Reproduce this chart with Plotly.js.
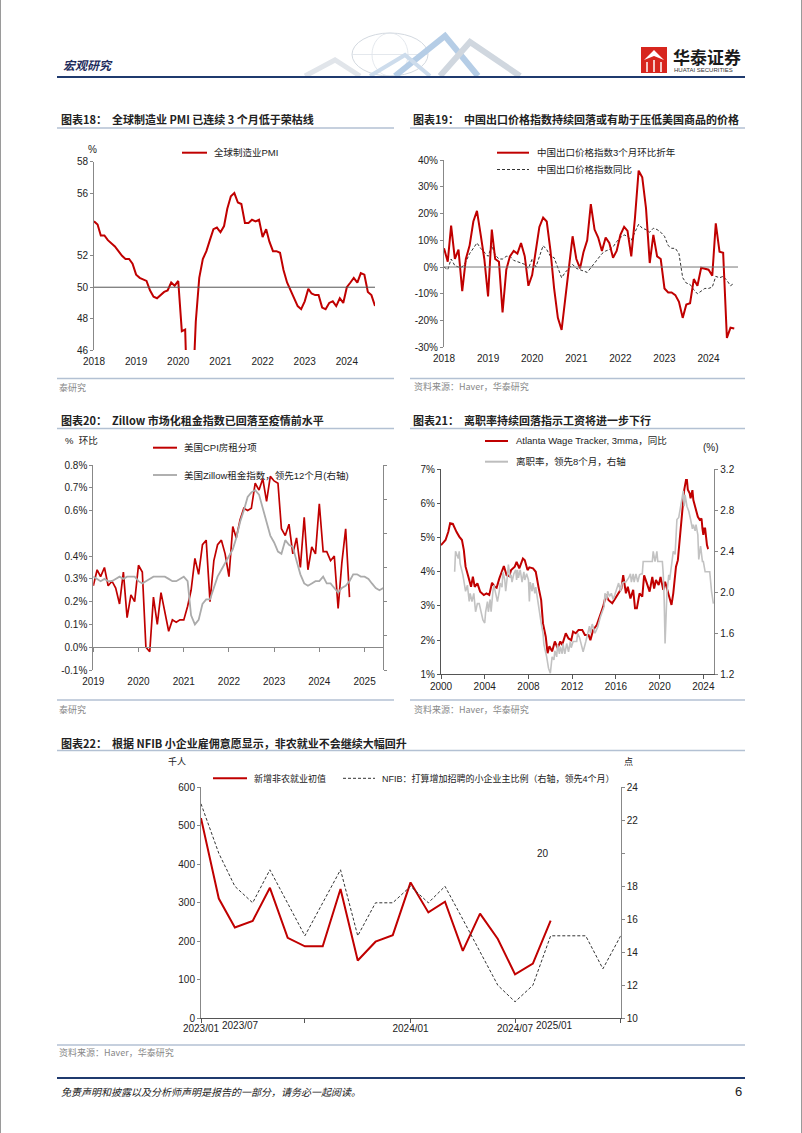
<!DOCTYPE html>
<html><head><meta charset="utf-8">
<script src="https://cdn.plot.ly/plotly-3.0.1.min.js"></script>
<style>html,body{margin:0;padding:0;background:#fff}#g{width:802px;height:1133px}</style>
</head><body><div id="g"></div>
<script>
// ---------- DATA ----------
// Chart 18: global manufacturing PMI, monthly from 2018-01
const pmiStart = [2018, 1];
const pmiVals = [54.2,54.0,53.3,53.3,53.0,52.8,52.6,52.3,52.0,51.8,51.8,51.5,
  50.8,50.6,50.5,50.4,49.8,49.4,49.3,49.5,49.7,49.8,50.3,50.1,
  50.4,47.2,47.3,39.6,42.4,47.8,50.6,51.8,52.3,53.0,53.7,53.8,
  53.5,53.9,55.0,55.8,56.0,55.4,55.3,54.1,54.1,54.3,54.2,54.3,
  53.2,53.7,52.9,52.3,52.3,52.2,51.1,50.3,49.8,49.4,48.8,48.6,
  49.1,49.9,49.6,49.5,49.5,48.7,48.6,49.0,49.1,48.8,49.3,49.0,
  50.0,50.3,50.6,50.3,50.9,50.8,49.7,49.5,48.8];
const pmiTicks = ['2018','2019','2020','2021','2022','2023','2024'];

// Chart 19: China export price index, monthly from 2018-01
const expStart = [2018, 1];
const exp3mAnn = [7,2,15.5,3,6.5,-9,3,8,17,21,12,3,
  -11,14,3,2,-17,-1,4,6,5,9,4,-7,
  -3,6,15,18.5,17,6,-8,-19,-23.5,-12,0,11.5,
  3,-0.5,5.5,10,23.5,14,11,6,11,9,3.5,6,
  12,15,13.5,4,18,36,33.5,22,1.5,12,4,3,
  -8,-9.5,-9.5,-10.5,-13,-19,-14,-13.5,-4.5,-7,-0.3,-0.7,
  -1,-3.2,16.3,5.7,5.3,-26.5,-22.7,-23];
const expYoy = [0,-1,3,0.5,0,0,2,5,7,9,7,5.5,
  4,8,4.5,3,3,4,4,2.5,2,1.5,1,-0.5,
  3,0,4,8,6.5,4,3.5,-0.5,-4,-2,-0.5,1,
  -0.5,-1,-1.5,-2,-0.3,1.5,3.5,5,6,6.5,7.5,9.5,
  11,12,11.5,10,13,16,14.5,14,13,14.5,14,13,
  11.5,8,7,7,5,-4,-6,-6.5,-8.5,-10,-9,-8,
  -8,-7.5,-3.5,-4,-3.5,-5,-7,-6];
const expTickVals = [-30,-20,-10,0,10,20,30,40];

// Chart 20: US CPI rent (left, % mom) and Zillow rent index (right, lead 12m), monthly from 2019-01
const rentStart = [2019, 1];
const cpiRent = [0.27,0.34,0.31,0.35,0.27,0.29,0.26,0.19,0.33,0.13,0.23,0.20,
  0.36,0.33,0.00,-0.02,0.22,0.10,0.24,0.16,0.07,0.12,0.11,0.12,
  0.12,0.18,0.25,0.39,0.32,0.45,0.47,0.20,0.38,0.45,0.47,0.41,
  0.31,0.53,0.48,0.56,0.61,0.60,0.61,0.72,0.69,0.74,0.64,0.75,
  0.73,0.72,0.52,0.49,0.54,0.41,0.48,0.35,0.57,0.34,0.44,0.41,
  0.63,0.42,0.42,0.38,0.40,0.17,0.37,0.52,0.22];
const zillow = [0.52,0.50,0.48,0.50,0.48,0.48,0.50,0.52,0.50,0.52,0.52,0.52,
  0.48,0.46,0.48,0.50,0.52,0.52,0.52,0.52,0.50,0.48,0.48,0.50,
  0.52,0.48,0.18,0.10,0.14,0.28,0.32,0.32,0.42,0.52,0.58,0.64,
  0.70,0.76,0.86,1.00,1.10,1.22,1.26,1.28,1.24,1.12,0.98,0.88,
  0.82,0.74,0.72,0.84,0.80,0.78,0.66,0.54,0.46,0.44,0.46,0.48,
  0.48,0.52,0.46,0.46,0.42,0.38,0.42,0.44,0.48,0.54,0.54,0.52,
  0.52,0.50,0.46,0.42,0.40,0.42];
const rentTickVals = [-0.1,0,0.1,0.2,0.3,0.4,0.6,0.7,0.8];
const rentTickText = ['-0.1%','0.0%','0.1%','0.2%','0.3%','0.4%','0.6%','0.7%','0.8%'];
const rentYears = ['2019','2020','2021','2022','2023','2024','2025'];

// Chart 21: Atlanta wage tracker (left) and quits rate lead 8m (right)
const wageDates = ['2000-01','2000-06','2000-09','2000-11','2001-02','2001-05','2001-06','2001-09','2001-12',
  '2002-02','2002-04','2002-07','2002-10','2002-12','2003-02','2003-05','2003-08','2003-12',
  '2004-03','2004-06','2004-09','2004-12','2005-02','2005-05','2005-08','2005-10',
  '2006-01','2006-04','2006-06','2006-10','2006-12','2007-03','2007-07','2007-09','2007-12',
  '2008-02','2008-06','2008-09','2008-12','2009-03','2009-05','2009-08','2009-10','2009-12',
  '2010-03','2010-06','2010-09','2010-12','2011-02','2011-06','2011-09','2011-12',
  '2012-02','2012-05','2012-08','2012-12','2013-03','2013-07','2013-09','2013-12',
  '2014-04','2014-08','2014-11','2015-02','2015-05','2015-09','2015-12',
  '2016-04','2016-07','2016-09','2016-12','2017-02','2017-05','2017-08','2017-10','2017-12',
  '2018-03','2018-06','2018-08','2018-11','2019-02','2019-05','2019-07','2019-09','2019-12',
  '2020-02','2020-05','2020-07','2020-09','2020-12','2021-02','2021-04','2021-07','2021-09','2021-11',
  '2022-02','2022-04','2022-06','2022-07','2022-08','2022-10','2022-11','2023-01','2023-02',
  '2023-05','2023-07','2023-09','2023-11','2023-12','2024-01','2024-02','2024-03','2024-05','2024-06','2024-07'];
const wageVals = [4.78,4.93,5.17,5.42,5.40,5.22,5.17,5.03,4.93,
  4.64,4.15,3.86,3.56,3.86,3.56,3.66,3.42,3.32,
  3.37,3.32,3.68,3.56,3.53,3.80,4.05,4.17,
  3.90,3.87,4.05,4.15,4.29,4.10,4.39,4.34,4.05,
  4.13,4.10,4.00,3.56,3.17,2.49,2.10,1.62,1.82,
  1.67,1.96,1.77,1.96,1.86,2.20,2.05,2.00,
  2.25,2.20,2.30,2.30,2.15,2.15,2.00,2.30,
  2.44,2.79,2.98,3.32,3.17,3.08,3.22,
  3.37,3.51,3.90,3.37,3.56,3.22,3.47,2.93,2.93,
  3.37,3.27,3.90,3.66,3.42,3.85,3.51,3.76,3.61,
  3.85,3.47,3.71,3.51,3.17,3.03,3.37,4.15,4.34,4.93,
  5.81,6.39,6.69,6.69,6.40,6.30,6.15,6.39,6.10,
  5.81,5.61,5.52,5.56,5.27,5.08,5.27,5.27,4.78,4.69,4.70];
const quitDates = ['2001-04','2001-05','2001-08','2001-09','2001-10','2001-12','2002-01','2002-04','2002-06','2002-08','2002-09','2002-11',
  '2003-01','2003-03','2003-05','2003-07','2003-09','2003-11','2004-01','2004-02','2004-04','2004-05','2004-07','2004-08','2004-10','2004-11',
  '2005-01','2005-03','2005-05','2005-06','2005-08','2005-09','2005-11','2005-12','2006-02','2006-03','2006-05','2006-06','2006-07','2006-09','2006-11','2006-12',
  '2007-01','2007-02','2007-04','2007-06','2007-08','2007-09','2007-11','2008-01','2008-02','2008-03','2008-05','2008-06','2008-08','2008-09','2008-11',
  '2009-01','2009-03','2009-05','2009-06','2009-09','2009-11','2010-01','2010-02','2010-03','2010-05','2010-06','2010-08','2010-09','2010-11','2010-12',
  '2011-02','2011-03','2011-05','2011-07','2011-09','2011-11','2011-12','2012-02','2012-06','2012-07','2012-09','2012-10',
  '2013-01','2013-04','2013-06','2013-08','2013-09','2013-11','2014-02','2014-05','2014-08','2014-10','2014-12',
  '2015-01','2015-03','2015-04','2015-06','2015-08','2015-10','2015-12','2016-02','2016-04','2016-06','2016-08','2016-10','2016-12',
  '2017-03','2017-05','2017-06','2017-08','2017-09','2017-11','2018-01','2018-03','2018-05','2018-06','2018-07','2018-10',
  '2019-05','2019-06','2019-08','2019-10','2019-11','2020-04','2020-05','2020-06','2020-07','2020-09','2020-11','2020-12',
  '2021-02','2021-04','2021-06','2021-08','2021-10','2021-12','2022-02','2022-03','2022-04','2022-05','2022-07','2022-09','2022-11',
  '2023-01','2023-02','2023-04','2023-05','2023-07','2023-08','2023-10','2023-12','2024-01','2024-03','2024-08','2024-10','2024-12'];
const quitVals = [2.20,2.40,2.33,2.40,2.28,2.22,2.17,2.01,2.07,1.91,1.99,1.91,
  1.99,1.81,1.89,1.89,1.80,1.73,1.70,1.81,1.91,1.81,1.93,1.81,2.01,2.07,
  1.99,1.91,2.01,2.09,2.05,2.20,2.12,2.01,2.17,2.27,2.14,2.17,2.10,2.18,2.22,2.12,
  2.22,2.14,2.22,2.10,2.20,2.12,2.18,2.12,1.91,2.10,2.01,2.09,1.99,2.05,1.93,
  1.80,1.70,1.60,1.49,1.37,1.26,1.21,1.27,1.37,1.34,1.43,1.37,1.49,1.40,1.47,
  1.40,1.50,1.40,1.50,1.42,1.52,1.46,1.52,1.52,1.60,1.56,1.52,
  1.42,1.52,1.60,1.67,1.60,1.69,1.60,1.66,1.76,1.82,1.86,
  1.99,1.93,2.01,1.96,1.99,1.93,1.98,2.05,2.09,2.01,2.09,2.10,2.10,
  2.14,2.18,2.10,2.18,2.10,2.18,2.10,2.17,2.18,2.18,2.30,2.30,
  2.30,2.40,2.30,2.40,2.30,2.30,2.18,1.93,1.50,1.99,2.17,2.12,
  2.25,2.40,2.37,2.71,2.73,2.84,2.97,2.99,2.84,2.95,2.84,2.79,2.71,
  2.62,2.66,2.60,2.66,2.56,2.32,2.45,2.30,2.30,2.20,2.20,2.01,1.89];
const wageYears = ['2000','2004','2008','2012','2016','2020','2024'];

// Chart 22: NFP first print (left, thousands) and NFIB hiring plans lead 4m (right)
const nfpStart = [2023, 1];
const nfpVals = [520,311,236,253,339,209,187,187,336,150,199,216,353,275,303,175,272,206,114,142,254];
const nfibVals = [23,20,18,17,19,17,15,17,19,15,17,17,18,17,18,16,14,12,11,12,15,15,15,13,15];
const nfpTickVals = ['2023-01-01','2023-07-01','2024-01-01','2024-07-01','2025-01-01'];
const nfpTickText = ['2023/01','','2024/01','2024/07',''];
const nfibTickVals = [10,12,14,16,18,20,22,24];
const nfibTickText = ['10','12','14','16','18','','22','24'];

// ---------- HELPERS ----------
const W = 802, H = 1133;
const fx = p => p / W;
const fy = p => 1 - p / H;
function months(start, n) {
  const out = [];
  for (let i = 0; i < n; i++) {
    const m0 = start[1] - 1 + i;
    const y = start[0] + Math.floor(m0 / 12), m = (m0 % 12) + 1;
    out.push(y + '-' + String(m).padStart(2, '0') + '-01');
  }
  return out;
}
const NUM = "'Liberation Sans', Arial, 'Noto Sans CJK SC', sans-serif";
const CJK = "'Noto Sans CJK SC', 'Liberation Sans', sans-serif";
const RED = '#c00000';
const TICKF = {family: NUM, size: 10, color: '#222'};
const annotations = [];
const shapes = [];
function txt(px, py, text, size, o) {
  o = o || {};
  annotations.push({xref: 'paper', yref: 'paper', x: fx(px), y: fy(py), text: text, showarrow: false,
    xanchor: o.xa || 'left', yanchor: 'middle',
    font: {family: o.family || CJK, size: size, color: o.color || '#222', style: o.style || 'normal'}});
}
function pline(x0, x1, y0, y1, color, width, dash) {
  shapes.push({type: 'line', xref: 'paper', yref: 'paper', x0: fx(x0), x1: fx(x1), y0: fy(y0), y1: fy(y1),
    line: {color: color, width: width, dash: dash || 'solid'}});
}

// ---------- PAGE FURNITURE ----------
pline(0.5, 0.5, 0, 1133, '#9a9a9a', 1);
pline(801.5, 801.5, 0, 1133, '#9a9a9a', 1);
// header decoration (faint wireframe globe / ridges)
shapes.push({type: 'circle', xref: 'paper', yref: 'paper', x0: fx(352), x1: fx(428), y0: fy(76), y1: fy(33),
  line: {color: '#d3d9e0', width: 1}, fillcolor: 'rgba(0,0,0,0)', layer: 'below'});
shapes.push({type: 'circle', xref: 'paper', yref: 'paper', x0: fx(372), x1: fx(408), y0: fy(76), y1: fy(33),
  line: {color: '#dde2e8', width: 0.8}, fillcolor: 'rgba(0,0,0,0)', layer: 'below'});
pline(352, 428, 54.5, 54.5, '#dde2e8', 0.8);
const ridge = (pts, color, w) => shapes.push({type: 'path', xref: 'paper', yref: 'paper',
  path: 'M ' + pts.map(p => fx(p[0]) + ' ' + fy(p[1])).join(' L '), line: {color: color, width: w}});
ridge([[305, 76], [335, 60], [360, 76]], '#e1e5ea', 5);
ridge([[395, 76], [445, 36], [478, 76]], '#b5cde6', 6);
ridge([[440, 76], [470, 42], [520, 76]], '#d0d7df', 6);
ridge([[370, 76], [405, 55], [430, 76]], '#cddcec', 4);
pline(57, 745, 77, 77, '#1f3a6e', 2);
txt(61, 65, '<b><i>宏观研究</i></b>', 12, {color: '#1f2d5c'});
// logo
shapes.push({type: 'rect', xref: 'paper', yref: 'paper', x0: fx(641), x1: fx(667), y0: fy(73), y1: fy(47),
  line: {width: 0}, fillcolor: '#d7261e'});
shapes.push({type: 'path', xref: 'paper', yref: 'paper',
  path: 'M ' + fx(644) + ' ' + fy(60) + ' L ' + fx(654) + ' ' + fy(50) + ' L ' + fx(664) + ' ' + fy(60) + ' L ' + fx(654) + ' ' + fy(56) + ' Z',
  line: {width: 0}, fillcolor: '#ffffff'});
pline(647, 647, 62, 72, '#ffffff', 1.5);
pline(654, 654, 60, 72, '#ffffff', 1.5);
pline(661, 661, 62, 72, '#ffffff', 1.5);
txt(671, 57, '<b>华泰证券</b>', 17, {color: '#1a1a1a'});
txt(672, 70, 'HUATAI SECURITIES', 6, {family: NUM, color: '#333'});
// footer
pline(57, 745, 1078, 1078, '#1f3a6e', 2);
txt(59, 1091, '<i>免责声明和披露以及分析师声明是报告的一部分，请务必一起阅读。</i>', 10, {color: '#222'});
txt(744, 1091, '6', 13, {family: NUM, xa: 'right', color: '#222'});

// chart titles, rules, sources
const RULE = '#b3c1d3';
txt(59, 119, '<b>图表18：  全球制造业 PMI 已连续 3 个月低于荣枯线</b>', 11);
pline(57, 394, 128, 128, RULE, 1.5);
pline(57, 394, 378.5, 378.5, RULE, 1.5);
txt(57, 387.5, '泰研究', 9, {color: '#888'});

txt(411, 119, '<b>图表19：  中国出口价格指数持续回落或有助于压低美国商品的价格</b>', 11);
pline(410, 745, 128, 128, RULE, 1.5);
pline(410, 745, 378.5, 378.5, RULE, 1.5);
txt(412, 386.5, '资料来源：Haver，华泰研究', 9, {color: '#888'});

txt(59, 420, '<b>图表20：  Zillow 市场化租金指数已回落至疫情前水平</b>', 11);
pline(57, 394, 428.5, 428.5, RULE, 1.5);
pline(57, 394, 700, 700, RULE, 1.5);
txt(57, 709, '泰研究', 9, {color: '#888'});

txt(411, 420, '<b>图表21：  离职率持续回落指示工资将进一步下行</b>', 11);
pline(410, 745, 428.5, 428.5, RULE, 1.5);
pline(410, 745, 700, 700, RULE, 1.5);
txt(412, 709, '资料来源：Haver，华泰研究', 9, {color: '#888'});

txt(59, 742.5, '<b>图表22：  根据 NFIB 小企业雇佣意愿显示，非农就业不会继续大幅回升</b>', 11);
pline(57, 745, 750.5, 750.5, RULE, 1.5);
pline(57, 745, 1045, 1045, RULE, 1.5);
txt(57, 1052.5, '资料来源：Haver，华泰研究', 9, {color: '#888'});

// ---------- CHART 18 ----------
const pmiX = months(pmiStart, pmiVals.length);
shapes.push({type: 'line', xref: 'x', yref: 'y', x0: '2018-01-01', x1: '2024-09-01', y0: 50, y1: 50,
  line: {color: '#555', width: 1}});
pline(182, 207, 152.7, 152.7, RED, 2);
txt(212, 152.7, '全球制造业PMI', 9.5, {family: NUM});
txt(92, 150, '%', 10, {family: NUM, xa: 'center'});

// ---------- CHART 19 ----------
const expX = months(expStart, exp3mAnn.length);
shapes.push({type: 'line', xref: 'x2', yref: 'y2', x0: '2018-01-01', x1: '2024-09-01', y0: 0, y1: 0,
  line: {color: '#777', width: 1}});
pline(497, 529, 152.7, 152.7, RED, 2);
txt(535, 152.7, '中国出口价格指数3个月环比折年', 9.5, {family: NUM});
pline(497, 529, 169.5, 169.5, '#333', 1, '3px,2px');
txt(535, 169.5, '中国出口价格指数同比', 9.5, {family: NUM});

// ---------- CHART 20 ----------
const rentX = months(rentStart, cpiRent.length);
const zilX = months(rentStart, zillow.length);
pline(153, 177, 447.7, 447.7, RED, 2);
txt(182, 447.7, '美国CPI房租分项', 9.5, {family: NUM});
pline(153, 177, 475, 475, '#b0b0b0', 2);
txt(182, 475, '美国Zillow租金指数，领先12个月(右轴)', 9.5, {family: NUM});
txt(63, 440, '%  环比', 9.5, {family: NUM});

// ---------- CHART 21 ----------
pline(485, 508, 441, 441, RED, 2);
txt(514, 441, 'Atlanta Wage Tracker, 3mma，同比', 9.5, {family: NUM});
pline(485, 508, 461.7, 461.7, '#bdbdbd', 2);
txt(514, 461.7, '离职率，领先8个月，右轴', 9.5, {family: NUM});
txt(711, 448, '(%)', 10, {family: NUM, xa: 'center'});

// ---------- CHART 22 ----------
const nfpX = months(nfpStart, nfpVals.length);
const nfibX = months(nfpStart, nfibVals.length);
pline(213, 247, 778.3, 778.3, RED, 2);
txt(252, 778.3, '新增非农就业初值', 9, {family: NUM});
pline(343, 375, 778.3, 778.3, '#333', 1, '3px,2px');
txt(380, 778.3, 'NFIB：打算增加招聘的小企业主比例（右轴，领先4个月）', 9, {family: NUM});
txt(177, 761.5, '千人', 9, {xa: 'center'});
txt(628, 761, '点', 9, {xa: 'center'});
txt(543, 853.3, '20', 10, {family: NUM, xa: 'center'});
txt(220, 1025.5, '2023/07', 10, {family: NUM});
txt(534, 1025.5, '2025/01', 10, {family: NUM});

// ---------- TRACES ----------
const traces = [
  {x: pmiX, y: pmiVals, xaxis: 'x', yaxis: 'y', mode: 'lines', line: {color: RED, width: 2}, name: '全球制造业PMI'},
  {x: expX, y: expYoy, xaxis: 'x2', yaxis: 'y2', mode: 'lines', line: {color: '#333', width: 1, dash: '3px,2px'}, name: '中国出口价格指数同比'},
  {x: expX, y: exp3mAnn, xaxis: 'x2', yaxis: 'y2', mode: 'lines', line: {color: RED, width: 2}, name: '中国出口价格指数3个月环比折年'},
  {x: zilX, y: zillow, xaxis: 'x3', yaxis: 'y4', mode: 'lines', line: {color: '#ababab', width: 1.8}, name: '美国Zillow租金指数，领先12个月(右轴)'},
  {x: rentX, y: cpiRent, xaxis: 'x3', yaxis: 'y3', mode: 'lines', line: {color: RED, width: 1.7}, name: '美国CPI房租分项'},
  {x: [], y: [], xaxis: 'x4', yaxis: 'y3', mode: 'lines', hoverinfo: 'skip'},
  {x: quitDates, y: quitVals, xaxis: 'x5', yaxis: 'y6', mode: 'lines', line: {color: '#c2c2c2', width: 1.6}, name: '离职率，领先8个月，右轴'},
  {x: wageDates, y: wageVals, xaxis: 'x5', yaxis: 'y5', mode: 'lines', line: {color: RED, width: 2}, name: 'Atlanta Wage Tracker, 3mma，同比'},
  {x: nfibX, y: nfibVals, xaxis: 'x6', yaxis: 'y8', mode: 'lines', line: {color: '#333', width: 1, dash: '3px,2px'}, name: 'NFIB'},
  {x: nfpX, y: nfpVals, xaxis: 'x6', yaxis: 'y7', mode: 'lines', line: {color: RED, width: 2}, name: '新增非农就业初值'}
];

const baseY = {showgrid: false, zeroline: false, showline: true, linecolor: '#888', linewidth: 1,
  ticks: 'outside', ticklen: 3, tickcolor: '#888', tickfont: TICKF, fixedrange: true};
const baseX = {showgrid: false, zeroline: false, tickfont: TICKF, type: 'date', fixedrange: true};
const yearVals = ys => ys.map(y => y + '-01-01');

const layout = {
  width: W, height: H, margin: {l: 0, r: 0, t: 0, b: 0}, showlegend: false,
  paper_bgcolor: '#ffffff', plot_bgcolor: 'rgba(0,0,0,0)',
  font: {family: NUM, size: 10, color: '#222'},
  // chart 18
  xaxis: Object.assign({}, baseX, {domain: [fx(94), fx(375)], anchor: 'y', range: ['2018-01-01', '2024-09-01'],
    tickmode: 'array', tickvals: yearVals(pmiTicks), ticktext: pmiTicks, showline: false, ticks: '', ticklabelstandoff: 4}),
  yaxis: Object.assign({}, baseY, {domain: [fy(350), fy(161.7)], anchor: 'x', range: [46, 58],
    tickmode: 'array', tickvals: [46, 48, 50, 52, 56, 58]}),
  // chart 19
  xaxis2: Object.assign({}, baseX, {domain: [fx(444), fx(738)], anchor: 'y2', range: ['2018-01-01', '2024-09-01'],
    tickmode: 'array', tickvals: yearVals(pmiTicks), ticktext: pmiTicks, showline: false, ticks: '', ticklabelstandoff: 4}),
  yaxis2: Object.assign({}, baseY, {domain: [fy(347.3), fy(160)], anchor: 'x2', range: [-30, 40],
    tickmode: 'array', tickvals: expTickVals, ticktext: expTickVals.map(v => v + '%')}),
  // chart 20
  xaxis3: Object.assign({}, baseX, {domain: [fx(93.3), fx(383.3)], anchor: 'y3', range: ['2019-01-01', '2025-06-01'],
    tickmode: 'array', tickvals: yearVals(rentYears), ticktext: rentYears, showline: false, ticks: '', ticklabelstandoff: 4}),
  xaxis4: Object.assign({}, baseX, {domain: [fx(93.3), fx(383.3)], overlaying: 'x3', anchor: 'free', position: fy(647.3),
    range: ['2019-01-01', '2025-06-01'], tickmode: 'array', tickvals: yearVals(rentYears), showticklabels: false,
    showline: true, linecolor: '#888', ticks: 'outside', ticklen: 4, tickcolor: '#888'}),
  yaxis3: Object.assign({}, baseY, {domain: [fy(670), fy(465)], anchor: 'x3', range: [-0.1, 0.8],
    tickmode: 'array', tickvals: rentTickVals, ticktext: rentTickText}),
  yaxis4: Object.assign({}, baseY, {overlaying: 'y3', side: 'right', anchor: 'x3', range: [-0.3, 1.5], dtick: 0.3,
    tick0: -0.3, showticklabels: false, ticklen: 3}),
  // chart 21
  xaxis5: Object.assign({}, baseX, {domain: [fx(441), fx(714.3)], anchor: 'y5', range: ['2000-01-01', '2025-01-01'],
    tickmode: 'array', tickvals: yearVals(wageYears), ticktext: wageYears, showline: true, linecolor: '#555',
    ticks: 'outside', ticklen: 4, tickcolor: '#555', ticklabelstandoff: -1}),
  yaxis5: Object.assign({}, baseY, {domain: [fy(674.3), fy(469.3)], anchor: 'x5', range: [1, 7], dtick: 1,
    ticksuffix: '%', linecolor: '#555', tickcolor: '#555'}),
  yaxis6: Object.assign({}, baseY, {overlaying: 'y5', side: 'right', anchor: 'x5', range: [1.2, 3.2],
    tickmode: 'array', tickvals: [1.2, 1.6, 2.0, 2.4, 2.8, 3.2], tickformat: '.1f'}),
  // chart 22
  xaxis6: Object.assign({}, baseX, {domain: [fx(201), fx(620.7)], anchor: 'y7', range: ['2023-01-01', '2025-01-01'],
    tickmode: 'array', tickvals: nfpTickVals, ticktext: nfpTickText, showline: true, linecolor: '#555',
    ticks: 'outside', ticklen: 4, tickcolor: '#555', ticklabelstandoff: -3}),
  yaxis7: Object.assign({}, baseY, {domain: [fy(1018.3), fy(787.3)], anchor: 'x6', range: [0, 600], dtick: 100}),
  yaxis8: Object.assign({}, baseY, {overlaying: 'y7', side: 'right', anchor: 'x6', range: [10, 24],
    tickmode: 'array', tickvals: nfibTickVals, ticktext: nfibTickText}),
  shapes: shapes,
  annotations: annotations
};

Plotly.newPlot('g', traces, layout, {staticPlot: true, displayModeBar: false});
</script>
</body></html>
